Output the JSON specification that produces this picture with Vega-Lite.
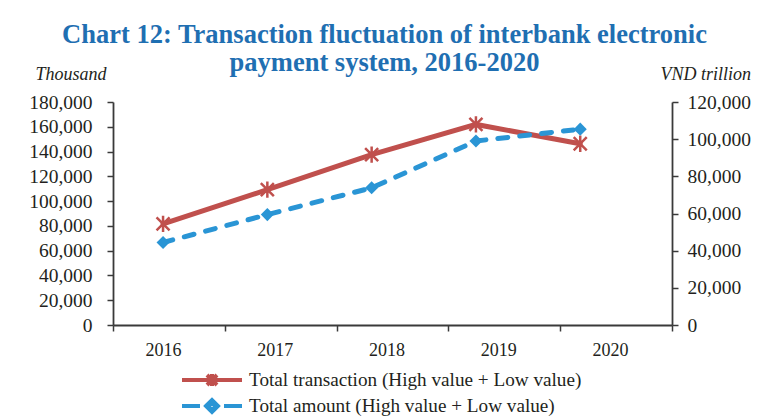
{
  "$schema": "https://vega.github.io/schema/vega-lite/v6.json",
  "width": 559,
  "height": 223,
  "autosize": {"type": "none"},
  "padding": {"left": 113, "top": 102, "right": 85, "bottom": 95},
  "background": "white",
  "title": {
    "text": ["Chart 12: Transaction fluctuation of interbank electronic", "payment system, 2016-2020"],
    "font": "Liberation Serif",
    "fontSize": 26.5,
    "fontWeight": "bold",
    "color": "#1f6fb2",
    "anchor": "middle",
    "lineHeight": 28,
    "dx": -8,
    "dy": 15
  },
  "config": {
    "view": {"stroke": null},
    "font": "Liberation Serif",
    "axis": {
      "labelFont": "Liberation Serif",
      "labelColor": "#231f20",
      "domainColor": "#3a3a3a",
      "tickColor": "#3a3a3a",
      "domainWidth": 1.8,
      "tickWidth": 1.5,
      "grid": false
    }
  },
  "datasets": {
    "rows": [
      {"year": 2016, "yearLabel": "2016", "transaction": 81600, "amount": 44400},
      {"year": 2017, "yearLabel": "2017", "transaction": 109200, "amount": 59400},
      {"year": 2018, "yearLabel": "2018", "transaction": 137600, "amount": 73800},
      {"year": 2019, "yearLabel": "2019", "transaction": 161900, "amount": 99000},
      {"year": 2020, "yearLabel": "2020", "transaction": 146300, "amount": 105400}
    ],
    "legendRows": [
      {"series": "Total transaction (High value + Low value)"},
      {"series": "Total amount (High value + Low value)"}
    ]
  },
  "layer": [
    {
      "data": {"name": "rows"},
      "mark": {"type": "point", "opacity": 0},
      "encoding": {
        "x": {
          "field": "yearLabel",
          "type": "ordinal",
          "scale": {"type": "band", "paddingInner": 0, "paddingOuter": 0},
          "axis": {
            "title": null,
            "labelAngle": 0,
            "labelFontSize": 18,
            "labelOffset": -6,
            "labelPadding": 10,
            "tickSize": 6,
            "tickBand": "extent",
            "domain": true
          }
        }
      }
    },
    {
      "data": {"name": "rows"},
      "encoding": {
        "x": {"field": "year", "type": "quantitative", "scale": {"domain": [2015.52, 2020.88], "nice": false, "zero": false}, "axis": null},
        "y": {
          "field": "transaction",
          "type": "quantitative",
          "scale": {"domain": [0, 180000], "nice": false},
          "axis": {
            "orient": "left",
            "values": [0, 20000, 40000, 60000, 80000, 100000, 120000, 140000, 160000, 180000],
            "format": ",d",
            "labelFontSize": 19.5,
            "labelPadding": 15,
            "tickSize": 6,
            "title": "Thousand",
            "titleFont": "Liberation Serif",
            "titleFontStyle": "italic",
            "titleFontWeight": "normal",
            "titleFontSize": 18,
            "titleColor": "#231f20",
            "titleAngle": 0,
            "titleAlign": "left",
            "titleBaseline": "alphabetic",
            "titleX": -78,
            "titleY": -23
          }
        }
      },
      "layer": [
        {"mark": {"type": "line", "color": "#c0504d", "strokeWidth": 5, "strokeCap": "round"}},
        {"mark": {"type": "point", "shape": "M-1,-1L1,1M-1,1L1,-1M0,-1.25V1.25", "size": 170, "filled": false, "color": "#c0504d", "strokeWidth": 2.5, "opacity": 1}}
      ]
    },
    {
      "data": {"name": "rows"},
      "encoding": {
        "x": {"field": "year", "type": "quantitative", "scale": {"domain": [2015.52, 2020.88], "nice": false, "zero": false}, "axis": null},
        "y": {
          "field": "amount",
          "type": "quantitative",
          "scale": {"domain": [0, 120000], "nice": false},
          "axis": {
            "orient": "right",
            "values": [0, 20000, 40000, 60000, 80000, 100000, 120000],
            "format": ",d",
            "labelFontSize": 19.5,
            "labelPadding": 9,
            "tickSize": 6,
            "title": "VND trillion",
            "titleFont": "Liberation Serif",
            "titleFontStyle": "italic",
            "titleFontWeight": "normal",
            "titleFontSize": 18,
            "titleColor": "#231f20",
            "titleAngle": 0,
            "titleAlign": "left",
            "titleBaseline": "alphabetic",
            "titleX": -12,
            "titleY": -23
          }
        }
      },
      "layer": [
        {"mark": {"type": "line", "color": "#2a95d5", "strokeWidth": 5, "strokeDash": [10, 12], "strokeCap": "round"}},
        {"mark": {"type": "point", "shape": "diamond", "size": 170, "filled": true, "color": "#2a95d5", "opacity": 1}}
      ]
    },
    {
      "data": {"name": "legendRows"},
      "mark": {"type": "point", "opacity": 0, "filled": false},
      "encoding": {
        "color": {
          "field": "series",
          "type": "nominal",
          "scale": {"domain": ["Total transaction (High value + Low value)", "Total amount (High value + Low value)"], "range": ["#c0504d", "#2a95d5"]},
          "legend": {
            "title": null,
            "orient": "none",
            "legendX": 87,
            "legendY": 266,
            "direction": "vertical",
            "symbolOpacity": 1,
            "symbolSize": 400,
            "symbolStrokeWidth": 4,
            "labelOffset": 25,
            "labelFont": "Liberation Serif",
            "labelFontSize": 19.2,
            "labelColor": "#231f20",
            "labelLimit": 500,
            "rowPadding": -2
          }
        },
        "shape": {
          "field": "series",
          "type": "nominal",
          "scale": {"domain": ["Total transaction (High value + Low value)", "Total amount (High value + Low value)"], "range": ["M-3,0H3M-0.5,-0.5L0.5,0.5M-0.5,0.5L0.5,-0.5M0,-0.6V0.6", "M-3,0H-1.2M1.2,0H3M-0.6,0L0,-0.6L0.6,0L0,0.6ZM-0.3,0L0,-0.3L0.3,0L0,0.3Z"]},
          "legend": {
            "title": null,
            "orient": "none",
            "legendX": 87,
            "legendY": 266,
            "direction": "vertical",
            "symbolOpacity": 1,
            "symbolSize": 400,
            "symbolStrokeWidth": 4,
            "labelOffset": 25,
            "labelFont": "Liberation Serif",
            "labelFontSize": 19.2,
            "labelColor": "#231f20",
            "labelLimit": 500,
            "rowPadding": -2
          }
        }
      }
    }
  ],
  "resolve": {"scale": {"x": "independent", "y": "independent", "color": "shared", "shape": "shared"}}
}
